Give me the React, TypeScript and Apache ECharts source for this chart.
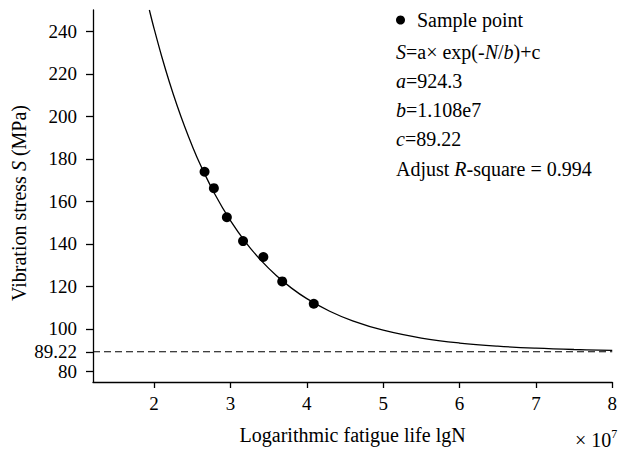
import React, { useEffect, useRef } from "react";
import * as echarts from "echarts";

// Sample points (N in 10^7, S in MPa)
const sampleN = [2.661, 2.783, 2.953, 3.165, 3.431, 3.678, 4.091];
const sampleS = [173.9, 166.2, 152.5, 141.3, 133.8, 122.3, 111.8];

// Fitted curve points
const curveN = [1.938, 2.0, 2.1, 2.2, 2.3, 2.4, 2.5, 2.6, 2.8, 3.0, 3.2, 3.4, 3.6, 3.8, 4.0, 4.3, 4.6, 5.0, 5.5, 6.0, 6.5, 7.0, 7.5, 8.0];
const curveS = [250, 241.24, 228.12, 216.13, 205.18, 195.17, 186.03, 177.67, 163.06, 150.87, 140.69, 132.19, 125.09, 119.17, 114.22, 108.29, 103.77, 99.36, 95.68, 93.33, 91.84, 90.89, 90.28, 89.9];

// Asymptote
const asymptote = 89.22;

// Tick labels
const xTicks = [2, 3, 4, 5, 6, 7, 8];
const yTicks = [80, 89.22, 100, 120, 140, 160, 180, 200, 220, 240];

// Annotation texts
const fitLines = [
  "{i|S}=a× exp(-{i|N}/{i|b})+c",
  "{i|a}=924.3",
  "{i|b}=1.108e7",
  "{i|c}=89.22",
  "Adjust {i|R}-square = 0.994",
];

const FONT = "Liberation Serif";
const FS = 20;
const TS = 19;

export default function App() {
  const ref = useRef<HTMLDivElement>(null);
  useEffect(() => {
    if (!ref.current) return;
    const chart = echarts.init(ref.current, null, { renderer: "svg" });
    const axisStyle = { color: "#000", width: 1.3 };
    chart.setOption({
      animation: false,
      backgroundColor: "#fff",
      textStyle: { fontFamily: FONT, color: "#000" },
      grid: { left: 93, right: 7, top: 10, bottom: 69, containLabel: false },
      legend: {
        data: [{ name: "Sample point", icon: "circle", itemStyle: { color: "#000", opacity: 1 } }],
        left: 396,
        top: 10,
        padding: 0,
        itemWidth: 9,
        itemHeight: 9,
        textStyle: { fontFamily: FONT, fontSize: FS, color: "#000", padding: [0, 0, 0, 7] },
      },
      xAxis: {
        type: "value",
        min: 1.2,
        max: 8,
        axisLine: { show: true, lineStyle: axisStyle },
        axisTick: { show: true, length: 6, lineStyle: axisStyle, customValues: xTicks },
        axisLabel: { customValues: xTicks, fontFamily: FONT, fontSize: TS, color: "#000", margin: 12 },
        splitLine: { show: false },
        name: "Logarithmic fatigue life lgN",
        nameLocation: "middle",
        nameGap: 43,
        nameTextStyle: { fontFamily: FONT, fontSize: FS, color: "#000" },
      },
      yAxis: {
        type: "value",
        min: 75,
        max: 250,
        axisLine: { show: true, lineStyle: axisStyle },
        axisTick: { show: true, length: 7, lineStyle: axisStyle, customValues: yTicks },
        axisLabel: {
          customValues: yTicks,
          fontFamily: FONT,
          fontSize: TS,
          color: "#000",
          margin: 16,
          formatter: (v: number) => (Math.abs(v - asymptote) < 1e-6 ? "89.22" : String(v)),
        },
        splitLine: { show: false },
      },
      series: [
        {
          name: "asymptote",
          type: "line",
          data: [[1.2, asymptote], [8, asymptote]],
          symbol: "none",
          lineStyle: { color: "#000", width: 1.2, type: [7, 4] },
          silent: true,
        },
        {
          name: "fit",
          type: "line",
          data: curveN.map((n, i) => [n, curveS[i]]),
          symbol: "none",
          smooth: 0.4,
          lineStyle: { color: "#000", width: 1.3 },
          silent: true,
        },
        {
          name: "Sample point",
          type: "scatter",
          data: sampleN.map((n, i) => [n, sampleS[i]]),
          symbol: "circle",
          symbolSize: 10,
          itemStyle: { color: "#000", opacity: 1 },
        },
      ],
      graphic: [
        ...fitLines.map((t, i) => ({
          type: "text",
          x: 396,
          y: 51.5 + i * 29.3,
          style: {
            text: t,
            fontFamily: FONT,
            fontSize: FS,
            fill: "#000",
            verticalAlign: "middle",
            rich: {
              i: { fontFamily: FONT, fontSize: FS, fontStyle: "italic", fill: "#000" },
            },
          },
        })),
        {
          type: "text",
          x: 19,
          y: 203,
          rotation: Math.PI / 2,
          style: {
            text: "Vibration stress {i|S} (MPa)",
            fontFamily: FONT,
            fontSize: FS,
            fill: "#000",
            align: "center",
            verticalAlign: "middle",
            rich: {
              i: { fontFamily: FONT, fontSize: FS, fontStyle: "italic", fill: "#000" },
            },
          },
        },
        {
          type: "text",
          x: 575,
          y: 440,
          style: {
            text: "× 10{s|7}",
            fontFamily: FONT,
            fontSize: FS,
            fill: "#000",
            verticalAlign: "middle",
            rich: { s: { fontFamily: FONT, fontSize: 12, fill: "#000", verticalAlign: "top", padding: [0, 0, 12, 0] } },
          },
        },
      ],
    });
    return () => chart.dispose();
  }, []);
  return <div ref={ref} style={{ position: "absolute", left: 0, top: 0, width: 620, height: 451 }} />;
}
